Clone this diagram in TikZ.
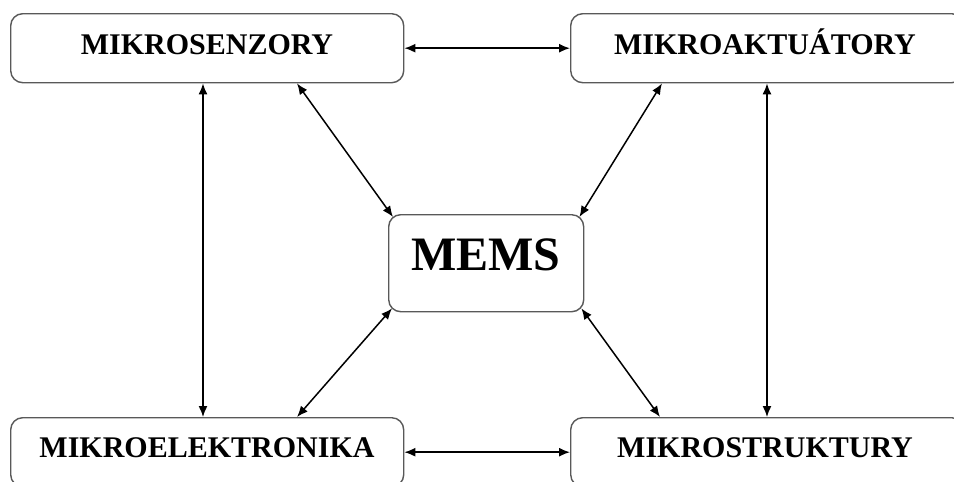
\documentclass[tikz,border=0pt]{standalone}
\usepackage{fontspec}
\setmainfont{Liberation Serif}
\usetikzlibrary{arrows.meta}
\begin{document}
\begin{tikzpicture}[x=1pt,y=-1pt,
  box/.style={draw=black!65, line width=1.4pt, rounded corners=12pt, rectangle,
    inner sep=0pt, anchor=north west},
  lbl/.style={anchor=base, inner sep=0pt, font=\bfseries\fontsize{30}{36}\selectfont},
  link/.style={<->, line width=1.5pt, >={Latex[length=11pt,width=9pt]}}]
\useasboundingbox (0,0) rectangle (954,482);
\fill[white] (0,0) rectangle (954,482);
\clip (0,0) rectangle (954,482);
% boxes
\node[box, minimum width=393pt, minimum height=69pt] (sen) at (10,13) {};
\node[box, minimum width=393pt, minimum height=69pt] (akt) at (570,13) {};
\node[box, minimum width=195pt, minimum height=97pt] (mems) at (388,214) {};
\node[box, minimum width=393pt, minimum height=69pt] (ele) at (10,417) {};
\node[box, minimum width=393pt, minimum height=69pt] (str) at (570,417) {};
% texts
\node[lbl] (tsen) at (207,54) {MIKROSENZORY};
\node[lbl] (takt) at (765,54) {MIKROAKTUÁTORY};
\node[lbl, font=\bfseries\fontsize{48}{56}\selectfont] (tmems) at (486,270) {MEMS};
\node[lbl] (tele) at (207,457) {MIKROELEKTRONIKA};
\node[lbl] (tstr) at (765,457) {MIKROSTRUKTURY};
% connectors
\draw[link] (sen.east) -- (akt.west);
\draw[link] (ele.east) -- (str.west);
\draw[link] ([xshift=193pt]sen.south west) -- ([xshift=193pt]ele.north west);
\draw[link] ([xshift=197pt]akt.south west) -- ([xshift=197pt]str.north west);
\draw[link] ([xshift=287pt]sen.south west) -- ([xshift=5pt,yshift=-3pt]mems.north west);
\draw[link] ([xshift=92pt]akt.south west) -- ([xshift=-5pt,yshift=-3pt]mems.north east);
\draw[link] ([xshift=4pt,yshift=4pt]mems.south west) -- ([xshift=287pt]ele.north west);
\draw[link] ([xshift=-3pt,yshift=4pt]mems.south east) -- ([xshift=90pt]str.north west);
\end{tikzpicture}
\end{document}
